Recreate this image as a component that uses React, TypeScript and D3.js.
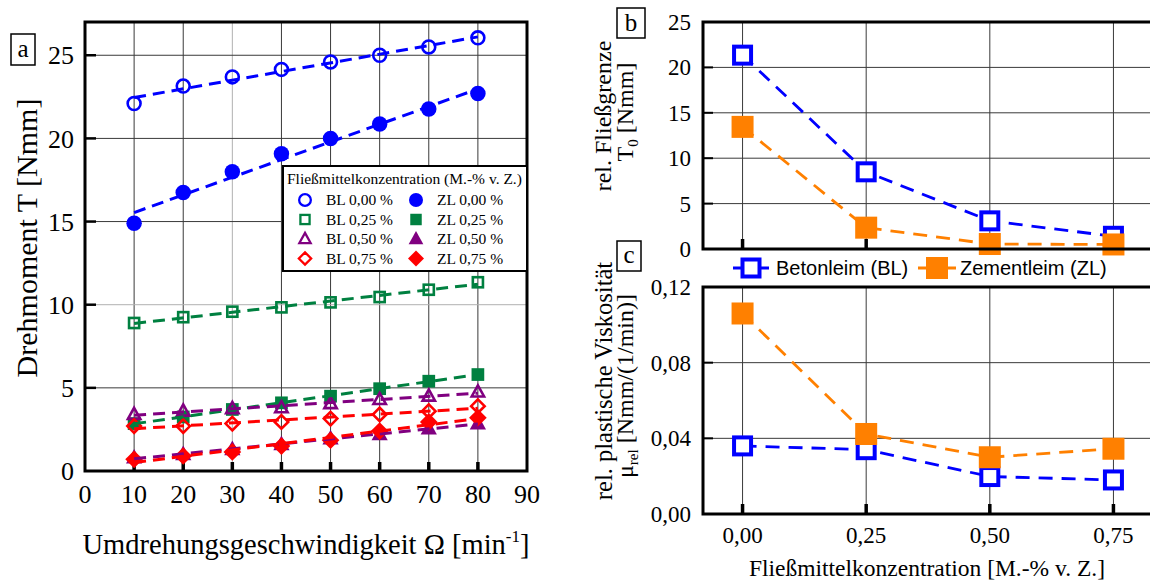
import React from 'react';
import * as d3 from 'd3';

// ---------- data ----------
const omega = [10, 20, 30, 40, 50, 60, 70, 80];
const bl000 = [22.1, 23.15, 23.7, 24.15, 24.6, 25.0, 25.5, 26.05];
const zl000 = [14.9, 16.75, 18.0, 19.08, 20.0, 20.87, 21.77, 22.7];
const bl025 = [8.9, 9.25, 9.58, 9.84, 10.14, 10.46, 10.9, 11.35];
const zl025 = [2.85, 3.25, 3.7, 4.1, 4.5, 4.95, 5.4, 5.8];
const bl050 = [3.4, 3.6, 3.75, 3.8, 4.05, 4.3, 4.5, 4.75];
const zl050 = [0.8, 1.0, 1.3, 1.6, 1.95, 2.2, 2.55, 2.85];
const bl075 = [2.7, 2.7, 2.85, 2.95, 3.15, 3.4, 3.6, 3.9];
const zl075 = [0.7, 0.9, 1.15, 1.5, 1.85, 2.4, 2.95, 3.2];

const conc = [0, 0.25, 0.5, 0.75];
const t0BL = [21.35, 8.5, 3.1, 1.4];
const t0ZL = [13.45, 2.35, 0.55, 0.5];
const muBL = [0.036, 0.034, 0.0198, 0.018];
const muZL = [0.106, 0.0423, 0.03, 0.0345];

const aXTicks = [0, 10, 20, 30, 40, 50, 60, 70, 80, 90];
const aYTicks = [0, 5, 10, 15, 20, 25];
const bYTicks = [0, 5, 10, 15, 20, 25];
const cYTicks = [0, 0.04, 0.08, 0.12];
const cXTicks = [0, 0.25, 0.5, 0.75];

const legendTitle = 'Fließmittelkonzentration (M.-% v. Z.)';

const BLUE = '#0000ff';
const GREEN = '#008040';
const PURPLE = '#800080';
const RED = '#ff0000';
const ORANGE = '#ff8000';

type Shape = 'circle' | 'square' | 'triangle' | 'diamond';
interface Series { label: string; values: number[]; color: string; shape: Shape; filled: boolean; }

const seriesA: Series[] = [
  { label: 'BL 0,00 %', values: bl000, color: BLUE, shape: 'circle', filled: false },
  { label: 'ZL 0,00 %', values: zl000, color: BLUE, shape: 'circle', filled: true },
  { label: 'BL 0,25 %', values: bl025, color: GREEN, shape: 'square', filled: false },
  { label: 'ZL 0,25 %', values: zl025, color: GREEN, shape: 'square', filled: true },
  { label: 'BL 0,50 %', values: bl050, color: PURPLE, shape: 'triangle', filled: false },
  { label: 'ZL 0,50 %', values: zl050, color: PURPLE, shape: 'triangle', filled: true },
  { label: 'BL 0,75 %', values: bl075, color: RED, shape: 'diamond', filled: false },
  { label: 'ZL 0,75 %', values: zl075, color: RED, shape: 'diamond', filled: true },
];

const SERIF = '"Liberation Serif", "Times New Roman", serif';
const SANS = '"Liberation Sans", Arial, sans-serif';

function fit(xs: number[], ys: number[]) {
  const mx = d3.mean(xs)!;
  const my = d3.mean(ys)!;
  let sxy = 0, sxx = 0;
  xs.forEach((x, i) => { sxy += (x - mx) * (ys[i] - my); sxx += (x - mx) * (x - mx); });
  const b = sxy / sxx;
  return (x: number) => my + b * (x - mx);
}

function Marker({ shape, filled, color, x, y, s, sw = 2.3 }: { shape: Shape; filled: boolean; color: string; x: number; y: number; s: number; sw?: number }) {
  const fill = filled ? color : 'none';
  const stroke = filled ? 'none' : color;
  if (shape === 'circle') {
    const r = filled ? s / 2 : s / 2 - sw / 2;
    return <circle cx={x} cy={y} r={r} fill={fill} stroke={stroke} strokeWidth={sw} />;
  }
  if (shape === 'square') {
    const a = filled ? s * 0.82 : s * 0.82 - sw;
    return <rect x={x - a / 2} y={y - a / 2} width={a} height={a} fill={fill} stroke={stroke} strokeWidth={sw} />;
  }
  if (shape === 'triangle') {
    const w = filled ? s * 1.05 : s * 1.05 - sw * 1.5;
    const h = w * 0.9;
    const p = `M${x},${y - h * 0.6}L${x + w / 2},${y + h * 0.4}L${x - w / 2},${y + h * 0.4}Z`;
    return <path d={p} fill={fill} stroke={stroke} strokeWidth={sw} strokeLinejoin="miter" />;
  }
  const r = filled ? s * 0.57 : s * 0.57 - sw * 0.8;
  const p = `M${x},${y - r}L${x + r},${y}L${x},${y + r}L${x - r},${y}Z`;
  return <path d={p} fill={fill} stroke={stroke} strokeWidth={sw} />;
}

function PanelA() {
  const L = 85, R = 527, T = 22, B = 471;
  const x = d3.scaleLinear().domain([0, 90]).range([L, R]);
  const y = d3.scaleLinear().domain([0, 27]).range([B, T]);
  const grid = '#3a3a3a';
  const lx = 283, ly = 166, lw = R - lx, lh = 105;
  return (
    <g>
      {aXTicks.filter(t => t > 0 && t < 90).map(t => (
        <line key={'gx' + t} x1={x(t)} x2={x(t)} y1={T} y2={B} stroke={t === 30 ? '#b0b0b0' : grid} strokeWidth={1} />
      ))}
      {aYTicks.filter(t => t > 0).map(t => (
        <line key={'gy' + t} x1={L} x2={R} y1={y(t)} y2={y(t)} stroke={t === 10 ? '#b0b0b0' : grid} strokeWidth={1} />
      ))}
      {aYTicks.filter(t => t > 0).map(t => (
        <line key={'ty' + t} x1={L} x2={L + 11} y1={y(t)} y2={y(t)} stroke="#000" strokeWidth={2.5} />
      ))}
      {aXTicks.filter(t => t > 0 && t < 90).map(t => (
        <line key={'tx' + t} x1={x(t)} x2={x(t)} y1={B} y2={B - 9} stroke="#000" strokeWidth={3.5} />
      ))}
      {seriesA.map(s => (
        <g key={'m' + s.label}>
          {s.values.map((v, i) => (
            <Marker key={i} shape={s.shape} filled={s.filled} color={s.color} x={x(omega[i])} y={y(v)} s={15.5} sw={2.6} />
          ))}
        </g>
      ))}
      {seriesA.map(s => {
        const f = fit(omega, s.values);
        return (
          <line key={'f' + s.label} x1={x(omega[0])} y1={y(f(omega[0]))} x2={x(omega[omega.length - 1])} y2={y(f(omega[omega.length - 1]))}
            stroke={s.color} strokeWidth={3} strokeDasharray="12,7" />
        );
      })}
      <rect x={L} y={T} width={R - L} height={B - T} fill="none" stroke="#000" strokeWidth={3} />
      {aYTicks.map(t => (
        <text key={'yl' + t} x={L - 11} y={y(t)} dy="0.35em" textAnchor="end" fontFamily={SERIF} fontSize={26}>{t}</text>
      ))}
      {aXTicks.map(t => (
        <text key={'xl' + t} x={x(t)} y={503} textAnchor="middle" fontFamily={SERIF} fontSize={26}>{t}</text>
      ))}
      <text x={306} y={554} textAnchor="middle" fontFamily={SERIF} fontSize={28.5}>
        Umdrehungsgeschwindigkeit Ω [min<tspan dy={-12} fontSize={17}>-1</tspan><tspan dy={12}>]</tspan>
      </text>
      <text transform="translate(26,238) rotate(-90)" dy="0.35em" textAnchor="middle" fontFamily={SERIF} fontSize={30}>Drehmoment T [Nmm]</text>
      <rect x={11} y={34} width={24} height={31} fill="#fff" stroke="#000" strokeWidth={1.5} />
      <text x={23} y={57} textAnchor="middle" fontFamily={SERIF} fontSize={25}>a</text>
      {/* legend */}
      <rect x={lx} y={ly} width={lw} height={lh} fill="#fff" stroke="#000" strokeWidth={2} />
      <text x={lx + 4} y={ly + 18} fontFamily={SERIF} fontSize={15.5}>{legendTitle}</text>
      {seriesA.map((s, i) => {
        const col = i % 2;
        const row = Math.floor(i / 2);
        const sx = col === 0 ? 305 : 416;
        const tx = col === 0 ? 326 : 437;
        const cy = ly + 34 + row * 19.5;
        return (
          <g key={'lg' + s.label}>
            <Marker shape={s.shape} filled={s.filled} color={s.color} x={sx} y={cy} s={14} sw={2.3} />
            <text x={tx} y={cy} dy="0.35em" fontFamily={SERIF} fontSize={15.5}>{s.label}</text>
          </g>
        );
      })}
    </g>
  );
}

function SmallPanel({ T, B, yDomain, yTicks, bl, zl, fmt, showX }: { T: number; B: number; yDomain: [number, number]; yTicks: number[]; bl: number[]; zl: number[]; fmt: (v: number) => string; showX: boolean }) {
  const L = 703, R = 1153;
  const x = d3.scaleLinear().domain([-0.08, 0.83]).range([L, R]);
  const y = d3.scaleLinear().domain(yDomain).range([B, T]);
  const grid = '#3a3a3a';
  const line = d3.line<number>().x((_, i) => x(conc[i])).y(v => y(v));
  const top = yDomain[1];
  return (
    <g>
      {conc.map(c => (
        <line key={'gx' + c} x1={x(c)} x2={x(c)} y1={T} y2={B} stroke={grid} strokeWidth={1} />
      ))}
      {yTicks.filter(t => t > 0 && t < top).map(t => (
        <line key={'gy' + t} x1={L} x2={R} y1={y(t)} y2={y(t)} stroke={grid} strokeWidth={1} />
      ))}
      {yTicks.filter(t => t > 0 && t < top).map(t => (
        <line key={'ty' + t} x1={L} x2={L + 10} y1={y(t)} y2={y(t)} stroke="#000" strokeWidth={2} />
      ))}
      {conc.map(c => (
        <line key={'tx' + c} x1={x(c)} x2={x(c)} y1={B} y2={B - 10} stroke="#000" strokeWidth={3.5} />
      ))}
      <path d={line(bl)!} fill="none" stroke={BLUE} strokeWidth={2.8} strokeDasharray="14,9" />
      {bl.map((v, i) => (
        <rect key={'bl' + i} x={x(conc[i]) - 8.5} y={y(v) - 8.5} width={17} height={17} fill="#fff" stroke={BLUE} strokeWidth={4} />
      ))}
      <path d={line(zl)!} fill="none" stroke={ORANGE} strokeWidth={2.8} strokeDasharray="14,9" />
      {zl.map((v, i) => (
        <rect key={'zl' + i} x={x(conc[i]) - 11} y={y(v) - 11} width={22} height={22} fill={ORANGE} />
      ))}
      <rect x={L} y={T} width={R - L} height={B - T} fill="none" stroke="#000" strokeWidth={3} />
      {yTicks.map(t => (
        <text key={'yl' + t} x={691} y={y(t)} dy="0.35em" textAnchor="end" fontFamily={SERIF} fontSize={23}>{fmt(t)}</text>
      ))}
      {showX && cXTicks.map(t => (
        <text key={'xl' + t} x={x(t)} y={543} textAnchor="middle" fontFamily={SERIF} fontSize={23}>{t.toFixed(2).replace('.', ',')}</text>
      ))}
    </g>
  );
}

export default function App() {
  return (
    <svg width={1150} height={583} style={{ position: 'absolute', left: 0, top: 0, background: '#fff' }} xmlns="http://www.w3.org/2000/svg">
      <rect x={0} y={0} width={1150} height={583} fill="#fff" />
      <PanelA />
      <SmallPanel T={22} B={249} yDomain={[0, 25]} yTicks={bYTicks} bl={t0BL} zl={t0ZL} fmt={v => String(v)} showX={false} />
      <SmallPanel T={287} B={514} yDomain={[0, 0.12]} yTicks={cYTicks} bl={muBL} zl={muZL} fmt={v => v.toFixed(2).replace('.', ',')} showX={true} />
      {/* b/c labels */}
      <rect x={617} y={8} width={28} height={30} fill="#fff" stroke="#000" strokeWidth={1.5} />
      <text x={631} y={31} textAnchor="middle" fontFamily={SERIF} fontSize={25}>b</text>
      <rect x={617} y={241} width={24} height={30} fill="#fff" stroke="#000" strokeWidth={1.5} />
      <text x={629} y={263} textAnchor="middle" fontFamily={SERIF} fontSize={25}>c</text>
      <text transform="translate(603,116) rotate(-90)" dy="0.35em" textAnchor="middle" fontFamily={SERIF} fontSize={24}>rel. Fließgrenze</text>
      <text transform="translate(625,112) rotate(-90)" dy="0.35em" textAnchor="middle" fontFamily={SERIF} fontSize={24}>
        T<tspan dy={5} fontSize={15}>0</tspan><tspan dy={-5}> [Nmm]</tspan>
      </text>
      <text transform="translate(603,381) rotate(-90)" dy="0.35em" textAnchor="middle" fontFamily={SERIF} fontSize={24.5}>rel. plastische Viskosität</text>
      <text transform="translate(625,386) rotate(-90)" dy="0.35em" textAnchor="middle" fontFamily={SERIF} fontSize={24}>
        μ<tspan dy={5} fontSize={15}>rel</tspan><tspan dy={-5}> [Nmm/(1/min)]</tspan>
      </text>
      <text x={927} y={576} textAnchor="middle" fontFamily={SERIF} fontSize={23.5}>Fließmittelkonzentration [M.-% v. Z.]</text>
      {/* legend b/c */}
      <line x1={733} x2={769} y1={268} y2={268} stroke={BLUE} strokeWidth={2.8} />
      <rect x={751 - 8.5} y={268 - 8.5} width={17} height={17} fill="#fff" stroke={BLUE} strokeWidth={4} />
      <text x={776} y={268} dy="0.35em" fontFamily={SANS} fontSize={20}>Betonleim (BL)</text>
      <line x1={918} x2={956} y1={268} y2={268} stroke={ORANGE} strokeWidth={2.8} />
      <rect x={937 - 11} y={268 - 11} width={22} height={22} fill={ORANGE} />
      <text x={960} y={268} dy="0.35em" fontFamily={SANS} fontSize={20}>Zementleim (ZL)</text>
    </svg>
  );
}
